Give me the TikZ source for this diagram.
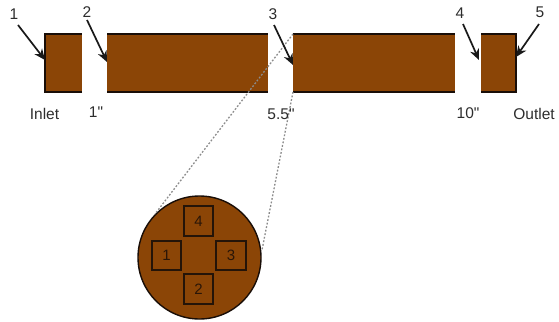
\documentclass[tikz,border=0pt]{standalone}
\usepackage{fontspec}
\setmainfont{Liberation Sans}[Ligatures=TeXOff]
\usetikzlibrary{arrows.meta}
\definecolor{pipe}{RGB}{139,69,6}
\definecolor{edge}{RGB}{25,14,8}
\definecolor{txt}{RGB}{45,45,45}
\tikzset{x=1pt,y=-1pt,
 pipebox/.style={fill=pipe,draw=none,minimum width=0pt,minimum height=0pt,inner sep=0pt,outer sep=0pt,anchor=north west},
 edgeline/.style={draw=edge,line width=1.9pt},
 lbl/.style={text=txt,font=\fontsize{15.5}{17}\selectfont,inner sep=0pt},
 arrowline/.style={draw=black!90,line width=1.7pt,-{Stealth[length=11pt,width=9.5pt,inset=3.5pt]}},
 dotline/.style={draw=black!45,line width=1.3pt,dash pattern=on 1.8pt off 1.8pt},
 port/.style={draw=edge!90!pipe,line width=1.6pt,fill=pipe,minimum size=29.5pt,inner sep=0pt,text=edge!85!pipe,font=\fontsize{15}{17}\selectfont}
}
\begin{document}
\begin{tikzpicture}
\useasboundingbox (0,0) rectangle (559,321);
% pipe segments
\node[pipebox,minimum width=37pt,minimum height=58pt] (s1) at (45,34) {};
\node[pipebox,minimum width=161pt,minimum height=58pt] (s2) at (107,34) {};
\node[pipebox,minimum width=162pt,minimum height=58pt] (s3) at (293,34) {};
\node[pipebox,minimum width=35pt,minimum height=58pt] (s4) at (481,34) {};
\draw[edgeline] (s1.south east) -- (s1.south west) -- (s1.north west) -- (s1.north east);
\draw[edgeline] (s2.north west) -- (s2.north east);
\draw[edgeline] (s2.south west) -- (s2.south east);
\draw[edgeline] (s3.north west) -- (s3.north east);
\draw[edgeline] (s3.south west) -- (s3.south east);
\draw[edgeline] (s4.north west) -- (s4.north east) -- (s4.south east) -- (s4.south west);
% section circle
\node[circle,fill=pipe,draw=edge,line width=1.4pt,minimum size=123pt,inner sep=0pt] (disc) at (199.5,257.5) {};
\coordinate (d1) at (155,214);
\coordinate (d2) at (262,250);
\draw[dotline] (s3.north west) -- (d1);
\draw[dotline] (s3.south west) -- (d2);
% ports
\node[port] (p4) at (198.5,221) {4};
\node[port] (p1) at (166.5,255.5) {1};
\node[port] (p3) at (231,255.5) {3};
\node[port] (p2) at (198.5,289) {2};
% labels
\node[lbl] (n1) at (14,14) {1};
\node[lbl] (n2) at (87,12) {2};
\node[lbl] (n3) at (273,14) {3};
\node[lbl] (n4) at (460,13) {4};
\node[lbl] (n5) at (540,12) {5};
\coordinate (a1) at (45,60);
\coordinate (a2) at (107,62);
\coordinate (a3) at (293,65);
\coordinate (a4) at (479,60);
\coordinate (a5) at (516,57);
\coordinate (b1) at (18,25);
\coordinate (b2) at (87,20);
\coordinate (b3) at (274,25);
\coordinate (b4) at (463,24);
\coordinate (b5) at (539,24);
\draw[arrowline] (b1) -- (a1);
\draw[arrowline] (b2) -- (a2);
\draw[arrowline] (b3) -- (a3);
\draw[arrowline] (b4) -- (a4);
\draw[arrowline] (b5) -- (a5);
\node[lbl] (t1) at (44.5,114) {Inlet};
\node[lbl] (t2) at (96,112.5) {1"};
\node[lbl] (t3) at (281,114) {5.5"};
\node[lbl] (t4) at (468,113.5) {10"};
\node[lbl] (t5) at (534,114) {Outlet};
\end{tikzpicture}
\end{document}
